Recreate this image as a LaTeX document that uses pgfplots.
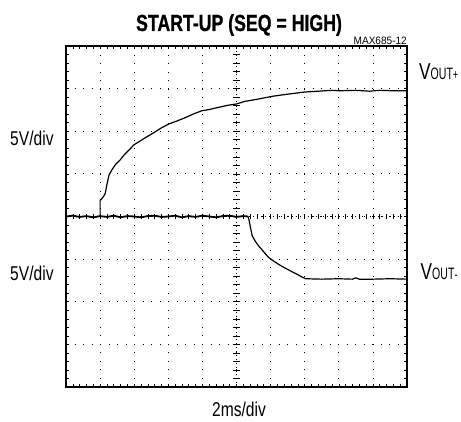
\documentclass[border=0pt]{standalone}
\usepackage{fontspec}
\setmainfont{Liberation Sans}
\newfontfamily\cond[FakeStretch=0.78]{Liberation Sans}
\newfontfamily\titlefont[FakeStretch=0.76,FakeBold=0.8]{Liberation Sans Bold}
\newfontfamily\vfont[FakeStretch=0.75]{Liberation Sans}
\newfontfamily\subfont[FakeStretch=0.64]{Liberation Sans}
\newfontfamily\smallfont[FakeStretch=0.94]{Liberation Sans}
\usepackage{pgfplots}
\pgfplotsset{compat=1.18}

% baseline shared by both traces (before either output starts)
\pgfplotstableread{
x y
0.0 0.00
0.2 0.02
0.4 -0.01
0.6 0.01
0.8 -0.02
1.0 0.01
1.2 -0.01
1.4 0.02
1.6 -0.02
1.8 0.01
2.0 0.00
2.2 -0.02
2.4 0.01
2.6 0.02
2.8 -0.01
3.0 0.00
3.2 0.02
3.4 -0.02
3.6 0.01
3.8 -0.01
4.0 0.02
4.2 0.00
4.4 -0.02
4.6 0.01
4.8 0.02
5.0 -0.01
5.2 0.01
5.34 0.00
}\baseline

\pgfplotstableread{
x y
1.00 0.00
1.00 0.38
1.05 0.42
1.10 0.47
1.15 0.54
1.20 0.75
1.26 0.97
1.35 1.10
1.45 1.22
1.58 1.32
1.70 1.44
1.85 1.56
1.99 1.68
2.15 1.76
2.33 1.85
2.50 1.93
2.62 1.99
2.80 2.08
3.01 2.17
3.25 2.24
3.50 2.32
3.75 2.41
3.98 2.48
4.20 2.51
4.47 2.56
4.75 2.61
5.00 2.64
5.24 2.70
5.60 2.75
6.05 2.82
6.50 2.87
7.00 2.92
7.40 2.94
7.80 2.96
8.00 2.95
8.50 2.96
8.90 2.94
9.20 2.96
9.60 2.95
10.00 2.95
}\voutp

\pgfplotstableread{
x y
5.34 0.00
5.38 -0.13
5.42 -0.30
5.46 -0.45
5.55 -0.58
5.65 -0.69
5.80 -0.83
5.94 -0.96
6.08 -1.04
6.23 -1.12
6.38 -1.19
6.52 -1.25
6.66 -1.31
6.81 -1.37
6.92 -1.42
7.03 -1.46
7.50 -1.47
8.00 -1.46
8.40 -1.47
8.50 -1.44
8.60 -1.47
9.00 -1.47
9.50 -1.46
10.00 -1.47
}\voutm

\begin{document}
\begin{tikzpicture}
\path[use as bounding box] (0pt,0pt) rectangle (461pt,421pt);
\begin{axis}[
    at={(66pt,34pt)}, anchor=south west,
    width=341pt, height=341pt, scale only axis,
    xmin=0, xmax=10, ymin=-4, ymax=4,
    xtick={0,...,10}, ytick={-4,...,4},
    minor x tick num=4, minor y tick num=4,
    xticklabels={}, yticklabels={},
    tick align=inside,
    major tick length=3pt, minor tick length=3pt,
    tick style={black, line width=0.6pt},
    grid=major,
    major grid style={black, line width=0.8pt, dash pattern=on 0.9pt off 7.6pt},
    axis line style={line width=1.2pt},
    clip=false,
]
% centre cross with its small ticks
\draw[black, line width=0.8pt, dash pattern=on 0.9pt off 3pt] (axis cs:0,0) -- (axis cs:10,0);
\draw[black, line width=0.8pt, dash pattern=on 0.9pt off 3pt] (axis cs:5,-4) -- (axis cs:5,4);
\pgfplotsinvokeforeach{0.2,0.4,...,9.9}{
  \draw[black, line width=0.6pt] (axis cs:#1,-0.07) -- (axis cs:#1,0.07);
}
\pgfplotsinvokeforeach{-3.8,-3.6,...,3.9}{
  \draw[black, line width=0.6pt] (axis cs:4.91,#1) -- (axis cs:5.09,#1);
}
\addplot[black, line width=1.8pt] table {\baseline};
\addplot[black, line width=1.2pt] table {\voutp};
\addplot[black, line width=1.2pt] table {\voutm};
\end{axis}

\node[anchor=base, inner sep=0] at (239pt,390pt) {\fontsize{23.3}{24}\titlefont START-UP (SEQ = HIGH)};
\node[anchor=base east, inner sep=0] at (407pt,376pt) {\fontsize{10.7}{11}\smallfont MAX685-12};
\node[anchor=base west, inner sep=0] at (10pt,275pt) {\fontsize{20}{20}\cond 5V/div};
\node[anchor=base west, inner sep=0] at (10pt,140pt) {\fontsize{20}{20}\cond 5V/div};
\node[anchor=base, inner sep=0] at (239pt,5pt) {\fontsize{20}{20}\cond 2ms/div};
\node[anchor=base west, inner sep=0] at (419pt,341pt) {\fontsize{23}{23}\vfont V\fontsize{16.5}{16}\subfont OUT\fontsize{14}{14}\selectfont+};
\node[anchor=base west, inner sep=0] at (420.5pt,141.5pt) {\fontsize{23}{23}\vfont V\fontsize{16.5}{16}\subfont OUT\fontsize{14}{14}\selectfont-};
\end{tikzpicture}
\end{document}
